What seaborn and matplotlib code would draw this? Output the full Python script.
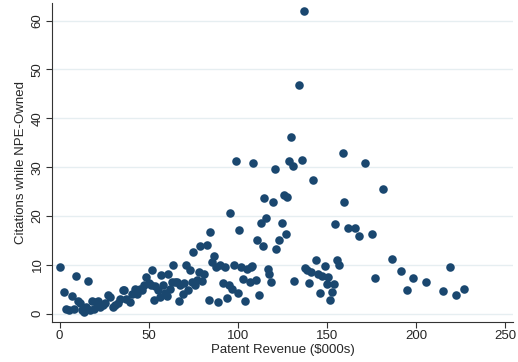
import numpy as np
import pandas as pd
import matplotlib
matplotlib.use("Agg")
import matplotlib.pyplot as plt
import seaborn as sns

# values
revenue = [0, 2.6, 3.7, 5.4, 6.9, 7.9, 9.0, 10.1, 11.2, 12.5, 13.8, 15.0, 15.9, 16.8,
           18.1, 19.1, 20.4, 21.5, 22.8, 24.3, 25.6, 26.9, 28.4, 29.7, 31.2, 32.5,
           34.0, 35.3, 36.3, 37.4, 39.3, 40.6, 42.1, 43.4, 44.9, 46.2, 47.5, 48.6,
           49.9, 51.2, 52.0, 53.1, 53.7, 55.0, 56.1, 56.8, 58.0, 58.9, 60.0, 61.1,
           62.1, 63.0, 63.9, 64.9, 65.8, 66.9, 67.7, 69.0, 69.9, 70.9, 72.0, 72.9,
           74.2, 74.8, 75.7, 77.0, 78.0, 78.9, 79.8, 81.2, 82.6, 84.0, 84.5, 85.8,
           86.9, 87.9, 88.8, 90.1, 91.6, 92.9, 93.9, 95.0, 95.7, 96.9, 98.0, 98.9,
           99.9, 100.8, 101.7, 102.8, 104.0, 105.1, 106.6, 107.3, 108.1, 108.8,
           110.0, 110.7, 111.8, 112.8, 113.9, 114.8, 115.7, 116.7, 117.8, 118.9,
           119.9, 120.8, 121.7, 123.4, 124.7, 125.8, 126.8, 127.9, 128.8, 129.8,
           130.9, 131.8, 134.4, 135.9, 136.9, 137.8, 139.1, 139.9, 141.0, 142.5,
           143.8, 144.9, 146.0, 147.3, 148.8, 150.0, 150.9, 151.9, 153.0, 153.9,
           154.8, 155.8, 156.7, 158.8, 159.9, 162.1, 165.7, 168.3, 171.5, 175.2,
           177.3, 181.4, 186.6, 191.5, 194.8, 198.6, 205.9, 215.0, 219.0, 222.3,
           226.8]
citations = [9.6, 4.4, 1.0, 0.7, 3.6, 1.0, 7.8, 2.7, 2.1, 0.7, 0.3, 1.4, 6.6, 0.8,
             2.5, 1.0, 2.4, 2.7, 1.4, 1.7, 2.1, 3.8, 3.4, 1.4, 1.7, 2.1,
             3.1, 4.8, 4.9, 3.1, 2.4, 4.1, 5.1, 4.1, 5.1, 4.8, 5.8, 7.5,
             6.2, 5.8, 9.0, 2.9, 5.6, 4.9, 3.4, 7.9, 5.8, 4.2, 3.6, 8.2,
             5.1, 6.5, 9.9, 6.5, 6.5, 2.5, 5.8, 4.1, 6.3, 9.9, 4.8, 9.0,
             6.5, 12.6, 5.8, 6.8, 8.5, 13.8, 6.6, 8.2, 14.0, 2.9, 16.7, 10.6,
             11.8, 9.6, 2.3, 10.0, 6.3, 9.6, 3.2, 5.9, 20.6, 5.1, 10.0, 31.2,
             4.3, 17.2, 9.6, 7.0, 2.7, 9.2, 6.5, 9.6, 9.8, 30.8,
             6.8, 15.0, 3.8, 18.6, 13.9, 23.6, 19.5, 9.2, 8.1, 6.5,
             22.8, 29.6, 13.3, 15.0, 18.6, 24.2, 16.3, 23.9, 31.2, 36.1,
             30.3, 6.6, 46.8, 31.4, 61.9, 9.4, 9.0, 6.2, 8.5, 27.3,
             10.9, 8.1, 4.3, 7.7, 9.7, 6.1, 7.5, 2.9, 4.4, 6.1,
             18.3, 10.9, 9.9, 32.8, 22.8, 17.5, 17.6, 15.9, 30.8, 16.3,
             7.3, 25.6, 11.2, 8.8, 4.8, 7.3, 6.4, 4.7, 9.6, 3.9,
             5.1]
x_ticks = [0, 50, 100, 150, 200, 250]
y_ticks = [0, 10, 20, 30, 40, 50, 60]

df = pd.DataFrame({"revenue": revenue, "citations": citations})

sns.set_theme(style="white")
plt.rcParams["font.family"] = ["Liberation Sans", "DejaVu Sans"]

fig = plt.figure(figsize=(5.18, 3.62), dpi=100)
ax = fig.add_axes([52 / 518, 1 - 322 / 362, 461 / 518, 319 / 362])

for t in y_ticks:
    ax.axhline(t, color="#e6eef1", linewidth=1.0, zorder=0)

sns.scatterplot(data=df, x="revenue", y="citations", ax=ax, color="#1a476f",
                s=38, linewidth=0, zorder=3)

ax.set_xlim(-4.3, 254.5)
ax.set_ylim(-1.7, 63.6)
ax.set_xticks(x_ticks)
ax.set_yticks(y_ticks)
ax.set_xticklabels([str(t) for t in x_ticks], fontsize=9.5)
ax.set_yticklabels([str(t) for t in y_ticks], fontsize=9.5, rotation=90, va="center")
ax.tick_params(axis="both", direction="out", length=4, width=0.8, color="#333333",
               pad=2, left=True, bottom=True)
ax.set_xlabel("Patent Revenue ($000s)", fontsize=9.5, labelpad=1)
ax.set_ylabel("Citations while NPE-Owned", fontsize=9.5, labelpad=3)

for side in ["top", "right"]:
    ax.spines[side].set_visible(False)
for side in ["left", "bottom"]:
    ax.spines[side].set_color("#333333")
    ax.spines[side].set_linewidth(0.8)

fig.savefig("out.png", dpi=100)
